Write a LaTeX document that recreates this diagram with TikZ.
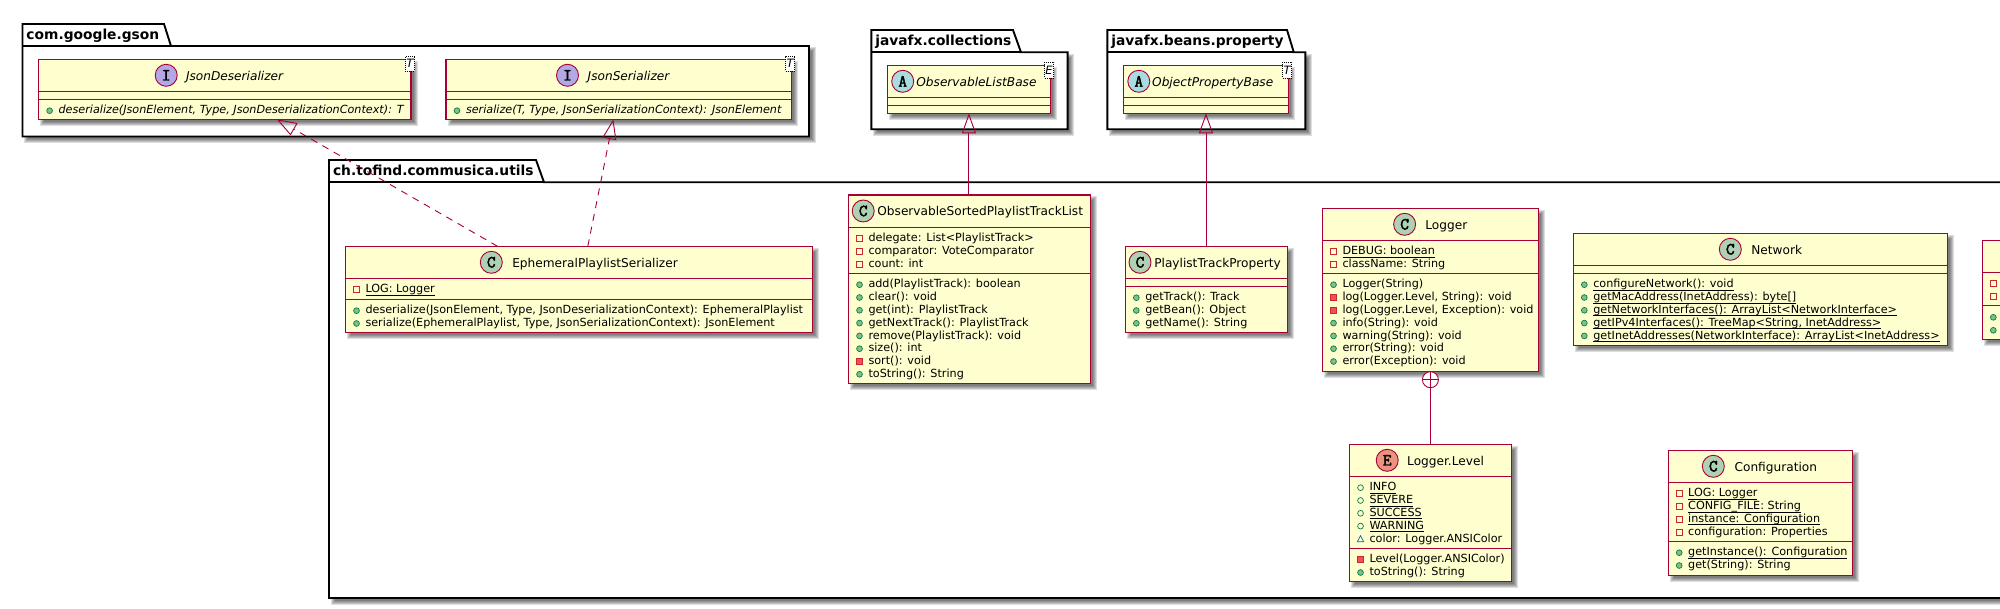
\documentclass[tikz,border=0pt]{standalone}
\usepackage{fontspec}
\setmainfont{DejaVu Sans}
\newfontfamily\spotfont[FakeBold=2.5]{Latin Modern Mono}
\usetikzlibrary{arrows.meta,calc}
\definecolor{umlred}{HTML}{A80036}
\definecolor{umlbg}{HTML}{FEFECE}
\definecolor{spotC}{HTML}{ADD1B2}
\definecolor{spotI}{HTML}{B4A7E5}
\definecolor{spotA}{HTML}{A9DCDF}
\definecolor{spotE}{HTML}{EB937F}
\definecolor{pubfill}{HTML}{84BE84}
\definecolor{publine}{HTML}{038048}
\definecolor{prifill}{HTML}{F24D5C}
\definecolor{priline}{HTML}{C82930}
\definecolor{pkgline}{HTML}{1963A0}
\newcount\txtno
\newsavebox\ulbox
\newcommand{\ulx}[1]{\sbox\ulbox{#1}\leavevmode\rlap{\usebox\ulbox}\rule[-2.7pt]{\wd\ulbox}{0.8pt}}
\newcommand{\memfont}{\fontsize{11.2}{13}\selectfont}
\newcommand{\ttlfont}{\fontsize{12.15}{14}\selectfont}
\tikzset{
  pkgbody/.style={draw=black,line width=1.9pt,fill=white,line join=miter},
  umlbox/.style={draw=umlred,fill=umlbg,line width=1.4pt,inner sep=0pt,outer sep=0pt,rectangle},
  umlsep/.style={draw=umlred,line width=1.3pt},
  txtnode/.style={inner sep=0pt,outer sep=0pt,anchor=base west,text=black},
  spotnode/.style={circle,draw=umlred,line width=0.9pt,minimum size=22pt,inner sep=0pt,outer sep=0pt,font=\spotfont\fontsize{17}{17}\selectfont},
  tmplnode/.style={draw=black,dash pattern=on 1pt off 1pt,line width=0.8pt,fill=white,inner sep=0pt,outer sep=0pt,rectangle,font=\itshape\fontsize{11.5}{11.5}\selectfont},
  umlline/.style={draw=umlred,line width=0.9pt},
  realizes/.style={umlline,dash pattern=on 7pt off 6pt,-{Triangle[open,length=20pt,width=14pt,line width=0.9pt]}},
  extends/.style={umlline,-{Triangle[open,length=20pt,width=14pt,line width=0.9pt]}},
}
% shadow
\newcommand{\softshadow}[4]{%
  \foreach \d in {2.5,1.5,0.5,-0.5,-1.5}{%
    \fill[black,opacity=0.13] ({#1+4-\d},{#2+4-\d}) rectangle ({#3+4+\d},{#4+4+\d});}}
% package
\newcommand{\pkg}[9]{% name x0 tabtop tabr1 tabr2 bodytop x1 bottom label
  \softshadow{#2}{#6}{#7}{#8}%
  \path[pkgbody] (#2,#6) -- (#2,#3) -- (#4,#3) -- (#5,#6) -- (#7,#6) -- (#7,#8) -- (#2,#8) -- cycle;
  \draw[black,line width=1.9pt] (#2,#6) -- (#5,#6);
  \node[txtnode,font=\bfseries\fontsize{13.8}{16}\selectfont] (#1) at ({#2+4},{#3+15.5}) {#9};}
% class box
\newcommand{\cbox}[7]{%
  \softshadow{#2}{#3}{#4}{#5}%
  \pgfmathsetmacro{\cw}{#4-#2}\pgfmathsetmacro{\ch}{#5-#3}%
  \node[umlbox,minimum width=\cw pt,minimum height=\ch pt] (#1) at ({(#2+#4)/2},{(#3+#5)/2}) {};
  \draw[umlsep] (#2,#6) -- (#4,#6);
  \draw[umlsep] (#2,#7) -- (#4,#7);}
\newcommand{\spot}[5]{\node[spotnode,fill=#3] (#5) at (#1,#2) {#4};}
\newcommand{\ttl}[4][]{\global\advance\txtno by 1
  \node[txtnode] (title\the\txtno) at (#2,#3) {\ttlfont#1#4};}
\newcommand{\tmpl}[5]{\pgfmathsetmacro{\cw}{#3-#1}\pgfmathsetmacro{\ch}{#4-#2}%
  \global\advance\txtno by 1
  \node[tmplnode,minimum width=\cw pt,minimum height=\ch pt] (tmpl\the\txtno) at ({(#1+#3)/2},{(#2+#4)/2}) {#5};}
% visibility icons
\newcommand{\iconpub}[2]{\draw[publine,fill=pubfill,line width=0.7pt] (#1,#2) circle (2.9pt);}
\newcommand{\iconpubo}[2]{\draw[publine,line width=0.7pt] (#1,#2) circle (2.9pt);}
\newcommand{\iconpri}[2]{\draw[priline,line width=0.8pt] ({#1-2.9},{#2-2.9}) rectangle ({#1+2.9},{#2+2.9});}
\newcommand{\iconprif}[2]{\draw[priline,fill=prifill,line width=0.8pt] ({#1-2.9},{#2-2.9}) rectangle ({#1+2.9},{#2+2.9});}
\newcommand{\iconpkg}[2]{\draw[pkgline,line width=0.7pt] ({#1-3.2},{#2+2.8}) -- ({#1+3.2},{#2+2.8}) -- (#1,{#2-3.2}) -- cycle;}
% rows: font, icon x, text x, compartment top, list
\newcommand{\rows}[5][]{%
  \foreach \vv/\mtext [count=\ii from 0] in {#5}{%
    \pgfmathsetmacro{\by}{#4+14.6+12.8*\ii}%
    \pgfmathsetmacro{\iy}{\by-3.2}%
    \csname icon\vv\endcsname{#2}{\iy}%
    \global\advance\txtno by 1
    \node[txtnode] (row\the\txtno) at (#3,\by) {\memfont#1\mtext};}}
\begin{document}
\begin{tikzpicture}[x=1pt,y=-1pt]
\useasboundingbox (0,0) rectangle (2000,609);
\clip (0,0) rectangle (2000,609);
% packages
\pkg{pgson}{22.5}{24}{164}{171}{46}{809}{136.5}{com.google.gson}
\pkg{pcoll}{871.3}{30}{1013}{1021}{52.3}{1067.6}{129.3}{javafx.collections}
\pkg{pbean}{1107.4}{30}{1287}{1293.8}{52.3}{1305.3}{129.3}{javafx.beans.property}
\pkg{putil}{329}{160}{536}{544}{182.3}{2012}{598}{ch.tofind.commusica.utils}
% JsonDeserializer
\cbox{deser}{38.6}{59.3}{411}{119.3}{91.3}{99.3}
\spot{166.2}{75.3}{spotI}{I}{deserspot}
\ttl[\itshape]{186}{80.3}{JsonDeserializer}
\tmpl{405.4}{56.3}{414.6}{71.3}{T}
\rows[\itshape]{49.6}{58.6}{99.3}{pub/{deserialize(JsonElement, Type, JsonDeserializationContext): T}}
% JsonSerializer
\cbox{ser}{446}{59.3}{791.3}{119.3}{91.3}{99.3}
\spot{567.5}{75.3}{spotI}{I}{serspot}
\ttl[\itshape]{587.7}{80.3}{JsonSerializer}
\tmpl{785.7}{56.3}{794.7}{71.3}{T}
\rows[\itshape]{457}{466}{99.3}{pub/{serialize(T, Type, JsonSerializationContext): JsonElement}}
% ObservableListBase
\cbox{obsbase}{887.4}{65.3}{1050.4}{113.3}{97.3}{105.3}
\spot{902.7}{81.3}{spotA}{A}{obsbasespot}
\ttl[\itshape]{916.4}{86.3}{ObservableListBase}
\tmpl{1044.5}{62.3}{1053.5}{78.3}{E}
% ObjectPropertyBase
\cbox{objbase}{1123.5}{65.3}{1288.4}{113.3}{97.3}{105.3}
\spot{1138.8}{81.3}{spotA}{A}{objbasespot}
\ttl[\itshape]{1152.2}{86.3}{ObjectPropertyBase}
\tmpl{1282.5}{62.3}{1291.5}{78.3}{T}
% EphemeralPlaylistSerializer
\cbox{ephem}{345.3}{246.3}{812.3}{332.3}{278.3}{299.3}
\spot{491.3}{262.3}{spotC}{C}{ephemspot}
\ttl{512.3}{267.3}{EphemeralPlaylistSerializer}
\rows{356.5}{365.5}{278.3}{pri/{\ulx{LOG: Logger}}}
\rows{356.5}{365.5}{299.3}{pub/{deserialize(JsonElement, Type, JsonDeserializationContext): EphemeralPlaylist},pub/{serialize(EphemeralPlaylist, Type, JsonSerializationContext): JsonElement}}
% ObservableSortedPlaylistTrackList
\cbox{sorted}{848.7}{195}{1090.6}{383.3}{227.3}{273.3}
\spot{863.2}{211}{spotC}{C}{sortedspot}
\ttl{877.4}{216}{ObservableSortedPlaylistTrackList}
\rows{859.5}{868.5}{227.3}{pri/{delegate: List<PlaylistTrack>},pri/{comparator: VoteComparator},pri/{count: int}}
\rows{859.5}{868.5}{273.3}{pub/{add(PlaylistTrack): boolean},pub/{clear(): void},pub/{get(int): PlaylistTrack},pub/{getNextTrack(): PlaylistTrack},pub/{remove(PlaylistTrack): void},pub/{size(): int},prif/{sort(): void},pub/{toString(): String}}
% PlaylistTrackProperty
\cbox{prop}{1125.4}{246.3}{1287.7}{332.7}{278.3}{286.3}
\spot{1140}{262.3}{spotC}{C}{propspot}
\ttl{1154.3}{267.3}{PlaylistTrackProperty}
\rows{1136.3}{1145.3}{286.3}{pub/{getTrack(): Track},pub/{getBean(): Object},pub/{getName(): String}}
% Logger
\cbox{logger}{1322.5}{208.3}{1538.2}{371.7}{240.3}{273.3}
\spot{1404.6}{224.3}{spotC}{C}{loggerspot}
\ttl{1425.4}{229.3}{Logger}
\rows{1333.5}{1342.5}{240.3}{pri/{\ulx{DEBUG: boolean}},pri/{className: String}}
\rows{1333.5}{1342.5}{273.3}{pub/{Logger(String)},prif/{log(Logger.Level, String): void},prif/{log(Logger.Level, Exception): void},pub/{info(String): void},pub/{warning(String): void},pub/{error(String): void},pub/{error(Exception): void}}
% Logger.Level
\cbox{level}{1349.5}{444.3}{1511.2}{581.3}{476.3}{548.3}
\spot{1387.2}{460.3}{spotE}{E}{levelspot}
\ttl{1407.2}{465.3}{Logger.Level}
\rows{1360.5}{1369.5}{476.3}{pubo/{\ulx{INFO}},pubo/{\ulx{SEVERE}},pubo/{\ulx{SUCCESS}},pubo/{\ulx{WARNING}},pkg/{color: Logger.ANSIColor}}
\rows{1360.5}{1369.5}{548.3}{prif/{Level(Logger.ANSIColor)},pub/{toString(): String}}
% Network
\cbox{network}{1573.3}{233.3}{1947.7}{345.3}{265.3}{273.3}
\spot{1730.3}{249.3}{spotC}{C}{networkspot}
\ttl{1751.3}{254.3}{Network}
\rows{1584.3}{1593.3}{273.3}{pub/{\ulx{configureNetwork(): void}},pub/{\ulx{getMacAddress(InetAddress): byte[]}},pub/{\ulx{getNetworkInterfaces(): ArrayList<NetworkInterface>}},pub/{\ulx{getIPv4Interfaces(): TreeMap<String, InetAddress>}},pub/{\ulx{getInetAddresses(NetworkInterface): ArrayList<InetAddress>}}}
% Configuration
\cbox{config}{1668.2}{450.3}{1852.5}{575.3}{482.3}{541.3}
\spot{1713.3}{466.3}{spotC}{C}{configspot}
\ttl{1734.6}{471.3}{Configuration}
\rows{1679.2}{1688.2}{482.3}{pri/{\ulx{LOG: Logger}},pri/{\ulx{CONFIG\_FILE: String}},pri/{\ulx{instance: Configuration}},pri/{configuration: Properties}}
\rows{1679.2}{1688.2}{541.3}{pub/{\ulx{getInstance(): Configuration}},pub/{get(String): String}}
% class cut by the right edge
\cbox{cutbox}{1982.3}{240.5}{2030}{339.3}{272.3}{305.3}
\iconpri{1993.3}{283.3}\iconpri{1993.3}{296.3}
\iconpub{1993.3}{317.3}\iconpub{1993.3}{330.3}
% connectors
\draw[realizes] ([xshift=-81.3pt]ephem.north) -- ([xshift=52pt]deser.south);
\draw[realizes] ([xshift=9pt]ephem.north) -- ([xshift=-5.3pt]ser.south);
\draw[extends] (sorted.north -| obsbase.south) -- (obsbase.south);
\draw[extends] (prop.north -| objbase.south) -- (objbase.south);
\node[circle,draw=umlred,fill=white,line width=0.9pt,minimum size=16pt,inner sep=0pt,outer sep=0pt] (nest) at (1430.4,379.7) {};
\draw[umlline] (nest.north) -- (nest.south);
\draw[umlline] (nest.west) -- (nest.east);
\draw[umlline] (nest.south) -- (nest.south |- level.north);
\end{tikzpicture}
\end{document}
